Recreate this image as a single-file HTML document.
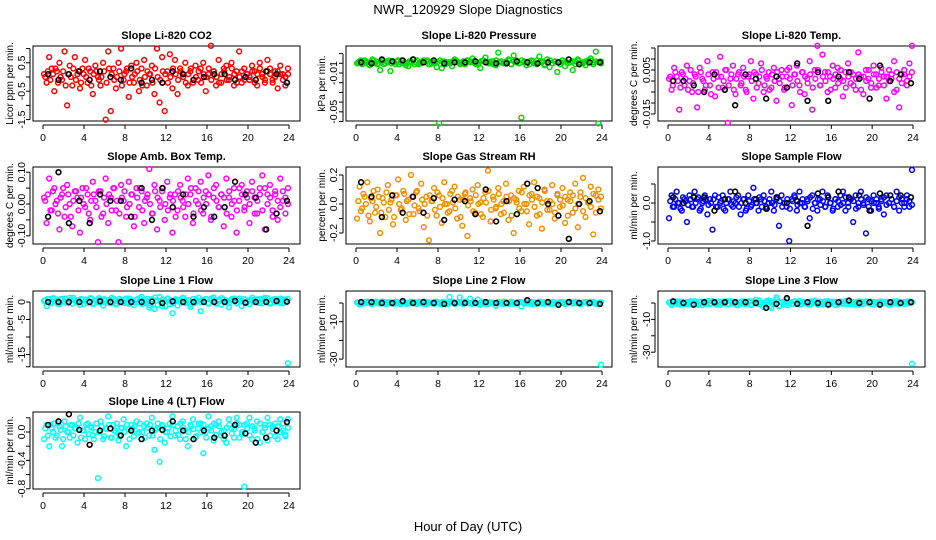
<!DOCTYPE html>
<html><head><meta charset="utf-8">
<style>
html,body{margin:0;padding:0;background:#fff;}
svg{display:block;font-family:"Liberation Sans",sans-serif;}
</style></head>
<body>
<svg id="chart" width="936" height="540" viewBox="0 0 936 540" xmlns="http://www.w3.org/2000/svg">
<text x="468" y="14" text-anchor="middle" font-size="13">NWR_120929  Slope Diagnostics</text>
<text x="468" y="531" text-anchor="middle" font-size="13">Hour of Day (UTC)</text>
</svg>
<script>
// ---- data (series values; x positions are hours of day spread across 0–24) ----
const xTicks = [0, 4, 8, 12, 16, 20, 24];
// CO2 (ppm per min)
const co2Vals = [0.1,-0.2,0.7,0.3,-0.5,0.2,0.5,-0.1,0.9,-1.0,0.4,-0.3,0.7,0.1,-0.4,0.3,0.6,-0.2,0.2,-0.6,0.4,0.0,-0.3,0.5,-1.5,0.9,-1.2,0.3,-0.4,0.5,1.0,-0.1,0.2,-0.7,0.4,-0.2,0.5,-0.5,0.3,0.6,-0.3,0.1,0.4,-0.6,1.0,-0.9,0.7,-1.2,0.2,0.8,-0.4,0.6,-0.6,0.3,0.1,0.5,-0.3,0.2,-0.2,0.4,-0.1,0.3,0.5,-0.5,0.1,1.1,0.2,-0.3,0.6,-0.2,0.3,0.4,-0.1,0.5,-0.3,0.2,0.9,-0.2,0.3,0.1,-0.1,0.4,0.2,-0.3,0.5,0.1,-0.2,0.6,0.3,-0.1,0.2,-0.4,0.4,0.1,-0.3,0.3];
const co2ValsB = [0.0,0.2,-0.1,0.1,0.3,-0.2,0.0,0.2,-0.3,0.1,0.0,0.3,-0.1,0.2,-0.2,0.1,0.0,0.3,-0.3,0.1,0.2,-0.1,0.0,0.2,-0.2,0.3,0.1,-0.1,0.0,0.2,-0.3,0.1,0.3,-0.2,0.0,0.1,0.2,-0.1,-0.3,0.0,0.2,0.1,-0.2,0.3,0.0,-0.1,0.2,0.1,-0.2,0.0,0.3,0.1,-0.1,0.2,0.0,-0.2,0.1,0.3,-0.1,0.0,0.2,-0.2,0.1,0.0,0.3,-0.1,0.2,0.0,-0.2,0.1,0.2,-0.1,0.0,0.3,0.1,-0.2,0.0,0.2,-0.1,0.1,0.0,0.2,-0.2,0.1,0.3,0.0,-0.1,0.2,0.1,-0.2,0.0,0.2,0.1,-0.1,0.0,0.1];
const co2Black = [0.1,-0.1,0.1,0.2,-0.1,0.2,0.0,-0.1,0.3,-0.2,-0.1,-0.2,0.2,0.1,-0.1,0.0,0.1,0.1,-0.1,0.0,-0.1,0.2,0.1,-0.2];
// Pressure (kPa per min)
const presVals = [0,0.002,-0.001,0.003,0.001,-0.002,0.004,0,-0.001,-0.007,0.003,0,0.001,-0.008,0.002,-0.001,0.003,0.001,0,-0.002,-0.003,0.002,0.004,0.001,-0.001,0,0.003,0.002,-0.001,0,0.001,-0.004,-0.062,-0.005,0.002,0,0.001,-0.003,0.004,0.002,0,0.001,-0.001,0.003,0.002,0.005,0,-0.001,-0.005,0.003,0.006,0.001,0,0.002,-0.002,0.011,0.001,0,0.002,0.004,-0.001,0.008,0.003,0,-0.056,0.001,-0.002,0.002,0.003,0,-0.001,0.007,0.001,-0.002,0.004,-0.004,0,0.002,-0.009,0.001,0.003,-0.003,0,0.001,-0.007,0.002,0.004,0,0.001,-0.002,0.003,0.005,0.001,0.012,-0.062,0.002];
const presValsB = [0.001,0.003,0,0.002,-0.001,0.001,0.003,0.002,0,0.001,-0.001,0.002,0.003,0,0.001,0.002,-0.001,0.003,0.001,0,0.002,0.001,-0.001,0.003,0,0.002,0.001,0.003,-0.001,0.002,0,0.001,0.003,0.002,-0.001,0.001,0,0.002,0.003,0.001,-0.001,0.002,0,0.003,0.001,0.002,-0.001,0,0.002,0.003,0.001,0,0.002,-0.001,0.003,0.001,0.002,0,0.001,0.003,-0.001,0.002,0.001,0,0.003,0.002,0.001,-0.001,0.002,0,0.003,0.001,0.002,-0.001,0.001,0.003,0,0.002,0.001,-0.001,0.003,0.002,0,0.001,0.002,-0.001,0.003,0.001,0,0.002,0.001,0.003,-0.001,0.002,0.001,0];
const presBlack = [0.001,0,0.004,0.002,0.003,0.004,0.001,0.003,0,0.001,0.001,0.002,0.001,0,0,0.002,0.001,0,0.001,0.001,0.004,-0.001,0.001,0.001];
// Li-820 temperature (deg C per min)
const tempVals = [0.001,-0.004,0.006,0.002,-0.013,0.004,-0.002,0.007,0,-0.005,0.003,-0.012,0.006,0.001,-0.004,0.009,-0.002,0.004,-0.007,0.002,0.011,-0.003,0.005,-0.019,0.001,0.007,-0.006,0.003,-0.002,0.006,-0.004,0.002,0.009,-0.008,0.003,-0.001,0.008,-0.005,0.002,0.004,-0.003,0.006,-0.009,0.001,0.005,-0.004,0.002,0.006,-0.011,0.003,0.007,-0.002,0.004,-0.006,0.001,0.009,-0.013,0.005,0.016,-0.002,0.012,0.004,-0.005,0.002,0.007,-0.003,0.006,0.001,-0.007,0.004,0.008,-0.001,0.003,-0.004,0.013,0.002,-0.006,0.005,0.001,-0.003,0.007,0.003,-0.002,0.006,0.002,-0.008,0.005,0.001,0.009,-0.004,-0.012,0.003,0.005,-0.002,0.008,0.016];
const tempValsB = [0.002,-0.002,0.004,0,-0.003,0.003,0.001,-0.004,0.005,-0.001,0.002,-0.005,0.004,0,-0.002,0.003,-0.006,0.001,0.004,-0.003,0.002,0,0.005,-0.002,0.003,-0.004,0.001,0.004,-0.001,0.002,-0.005,0.003,0,0.004,-0.003,0.002,0.005,-0.002,0.001,-0.004,0.003,0,0.004,-0.001,0.002,-0.003,0.005,0.001,-0.002,0.003,0,-0.005,0.004,0.002,-0.001,0.003,-0.003,0.001,0.005,-0.002,0.002,0,0.004,-0.004,0.001,0.003,-0.001,0.005,0,-0.003,0.002,0.004,-0.002,0.001,0.003,-0.004,0.002,0,0.005,-0.001,0.003,-0.003,0.001,0.004,-0.002,0.002,0,0.003,-0.005,0.004,0.001,-0.001,0.003,0,0.002,0.004];
const tempBlack = [0,0,-0.002,-0.005,0.003,-0.004,-0.011,0.003,0.001,-0.008,0.002,-0.003,0.008,-0.009,0.004,-0.009,0.002,0.004,0.001,-0.008,0.007,0,0.003,-0.001];
// Ambient box temperature (deg C per min)
const ambVals = [0.02,-0.06,0.08,-0.02,0.05,0.01,-0.08,0.03,-0.04,0.06,0,-0.07,0.04,0.02,-0.09,0.05,-0.01,0.03,-0.05,0.07,0.01,-0.12,0.04,-0.03,0.08,-0.06,0.02,0.05,-0.02,-0.12,0.06,0.01,-0.04,0.07,0.03,-0.07,0.05,-0.01,0.04,-0.06,0.02,0.11,-0.03,0.06,-0.08,0.01,0.04,-0.05,0.07,0.02,-0.09,0.03,-0.02,0.06,0.01,-0.04,0.08,0.03,-0.06,0.05,0,0.07,-0.03,0.04,0.09,-0.05,0.02,0.06,-0.01,0.03,-0.07,0.08,0.02,-0.04,0.05,-0.09,0.01,0.06,-0.02,0.04,-0.06,0.07,0.02,-0.03,0.05,0.09,-0.08,0.03,0.06,-0.02,0.04,-0.05,0.08,0.01,-0.03,0.05];
const ambValsB = [0.01,0.03,-0.02,0.04,0,-0.03,0.02,0.05,-0.01,0.03,-0.04,0.01,0.04,-0.02,0.02,0,0.05,-0.03,0.01,0.03,-0.01,0.04,-0.04,0.02,0,0.03,-0.02,0.05,0.01,-0.03,0.02,0.04,-0.01,0,0.03,-0.04,0.02,0.05,-0.02,0.01,0.03,0,-0.03,0.04,0.02,-0.01,0.05,0,-0.02,0.03,0.01,-0.04,0.04,0.02,-0.01,0.03,0,0.05,-0.03,0.01,0.04,-0.02,0.02,0,0.03,-0.04,0.05,0.01,-0.01,0.03,0.02,-0.03,0.04,0,0.01,-0.02,0.05,0.03,-0.01,0.02,0,0.04,-0.03,0.01,0.03,-0.02,0.05,0,0.02,-0.04,0.03,0.01,-0.01,0.04,0.02,0];
const ambBlack = [-0.04,0.1,-0.06,0.01,-0.06,0.03,0.01,0.01,-0.04,0.05,-0.05,0.05,-0.01,0.03,-0.04,-0.01,-0.04,-0.01,0.07,0.03,0.02,-0.08,-0.03,0.01];
// Gas stream RH (percent per min)
const rhVals = [-0.1,0.12,-0.03,0.05,0.15,-0.12,0.02,-0.06,0.1,-0.2,0.04,-0.09,0.13,0.01,-0.14,0.06,0.17,-0.04,0.09,-0.11,0.03,0.2,-0.07,0.08,-0.03,0.14,-0.16,0.05,-0.25,0.02,0.11,-0.08,0.06,-0.13,0.15,0.0,-0.05,0.09,0.12,-0.1,0.03,-0.15,0.07,-0.22,0.04,0.1,-0.06,0.13,0.01,-0.09,0.08,0.23,-0.12,0.05,-0.03,0.11,-0.07,0.02,0.14,-0.11,0.06,-0.2,0.03,0.09,-0.05,0.12,0.0,-0.14,0.07,0.15,-0.08,0.04,-0.17,0.1,0.02,-0.04,0.13,-0.1,0.06,-0.02,0.11,-0.13,0.03,0.08,-0.06,0.14,-0.16,0.05,0.18,-0.09,0.01,0.12,-0.21,0.06,0.1,-0.03];
const rhValsB = [0.02,-0.05,0.07,0.0,-0.08,0.04,0.09,-0.02,0.05,-0.06,0.01,0.08,-0.04,0.03,-0.09,0.06,0.0,-0.03,0.07,0.02,-0.07,0.05,-0.01,0.09,-0.05,0.03,0.0,-0.08,0.06,0.02,-0.04,0.08,-0.02,0.04,0.0,-0.06,0.07,0.01,-0.03,0.05,-0.09,0.03,0.08,-0.01,0.02,-0.05,0.06,0.0,-0.07,0.04,0.01,0.09,-0.04,0.03,-0.02,0.07,0.0,-0.06,0.05,0.02,-0.08,0.04,0.01,-0.03,0.08,0.0,-0.05,0.06,0.03,-0.02,0.05,-0.07,0.01,0.09,-0.04,0.02,0.0,-0.06,0.07,0.03,-0.01,0.05,-0.08,0.02,0.06,-0.03,0.0,0.08,-0.05,0.04,0.01,-0.02,0.07,-0.06,0.03,0.05];
const rhBlack = [0.15,0.05,-0.09,0.06,-0.06,0.05,-0.06,0.04,-0.11,0.03,0.02,-0.07,0.1,-0.12,0.02,-0.07,0.14,0.11,0.0,-0.08,-0.24,0.0,0.02,-0.05];
// Sample flow (ml/min per min)
const sampVals = [-0.4,0.2,-0.1,0.3,0.0,-0.2,0.1,-0.5,0.2,-0.1,0.3,0.1,-0.2,0.0,0.2,-0.3,0.1,-0.7,0.2,-0.1,0.0,0.2,-0.2,0.1,0.3,-0.1,0.0,0.2,-0.3,0.1,-0.2,0.2,-0.1,0.4,0.0,-0.2,0.1,0.2,-0.1,0.0,0.3,-0.2,0.1,-0.6,0.2,0.0,-0.1,-1.0,0.1,0.2,-0.2,0.3,0.0,-0.1,0.1,-0.4,0.2,0.0,-0.2,0.1,0.3,-0.1,0.2,0.0,-0.2,0.1,-0.1,0.2,0.3,-0.2,0.0,0.1,-0.5,0.2,-0.1,0.3,0.0,-0.8,0.1,-0.2,0.2,0.0,-0.1,0.1,-0.3,0.2,0.0,0.1,-0.1,0.3,-0.2,0.1,0.0,0.2,-0.1,0.87];
const sampValsB = [0.05,-0.1,0.1,0.0,-0.15,0.15,0.05,-0.05,0.1,-0.1,0.0,0.15,-0.15,0.05,0.1,-0.05,0.0,0.1,-0.1,0.15,0.05,-0.15,0.0,0.1,-0.05,0.05,0.15,-0.1,0.0,0.1,-0.15,0.05,-0.05,0.1,0.0,0.15,-0.1,0.05,-0.15,0.1,0.0,-0.05,0.15,0.05,-0.1,0.0,0.1,-0.15,0.05,0.15,-0.05,0.0,0.1,-0.1,0.05,0.15,-0.15,0.0,0.1,-0.05,0.05,-0.1,0.15,0.0,-0.15,0.1,0.05,-0.05,0.0,0.15,-0.1,0.1,0.05,-0.15,0.0,0.1,-0.05,0.15,-0.1,0.05,0.0,0.1,-0.15,0.05,0.15,-0.05,0.0,0.1,-0.1,0.05,0.15,0.0,-0.1,0.1,0.05,-0.05];
const sampBlack = [0.15,0.0,0.15,0.15,-0.2,0.1,0.3,0.0,0.1,-0.15,0.15,0.0,0.05,-0.6,0.25,0.15,0.3,0.15,0.2,-0.2,0.25,0.2,0.2,0.15];
// Line 1 flow
const l1Vals = [0.3,-1.2,0.8,-0.4,1.0,0.2,-0.6,0.9,0.1,-0.3,1.2,-0.5,0.6,0.0,-0.8,0.7,0.3,-0.2,1.1,-0.6,0.4,-0.1,0.8,-1.0,0.5,0.2,-0.4,0.9,-0.7,0.1,0.6,-0.3,1.0,-0.5,0.3,-0.9,0.7,0.0,1.5,-0.4,0.2,-1.6,0.8,-2.0,0.5,1.4,-1.2,0.3,0.9,-0.6,-3.2,0.4,-1.0,0.7,1.2,-0.3,0.5,-1.4,0.8,-0.2,0.4,-2.6,0.1,0.9,-0.5,0.6,1.3,-0.4,0.2,-0.8,0.7,0.0,-1.5,0.5,1.0,-0.3,0.4,-1.1,0.8,0.1,-0.6,0.6,0.3,-0.2,0.9,-0.4,1.2,0.2,-0.5,0.7,0.0,0.5,-0.3,0.8,0.2,-17.5];
const l1ValsB = [0.5,0.9,-0.2,1.1,0.3,-0.5,0.8,0.1,1.0,-0.3,0.6,1.2,-0.1,0.4,0.9,-0.6,0.7,0.2,1.0,-0.4,0.5,1.1,0.0,0.8,-0.2,0.6,1.2,0.3,-0.5,0.9,0.1,0.7,-0.3,1.0,0.4,-0.1,0.8,1.1,-0.6,0.2,0.9,-1.0,0.5,1.3,-0.8,0.1,0.7,-1.2,1.0,0.3,-0.4,0.8,0.6,-0.2,1.1,0.0,0.5,-0.7,0.9,0.3,1.2,-0.1,0.6,0.8,-0.3,1.0,0.2,-0.5,0.7,1.1,0.0,0.4,-0.2,0.9,0.6,-0.4,1.0,0.3,0.8,-0.1,0.5,1.2,0.0,0.7,-0.3,0.9,0.4,1.1,-0.2,0.6,0.8,0.1,1.0,-0.4,0.5,0.9];
const l1Black = [0.0,0.0,0.0,0.0,0.0,0.2,0.0,0.0,0.0,0.0,0.1,-0.3,0.2,0.0,0.0,0.0,0.0,0.0,0.3,-0.2,0.0,0.0,0.3,0.1];
// Line 2 flow
const l2Vals = [0.3,-0.8,0.5,-0.2,0.7,0.0,-0.5,0.6,0.2,-0.3,0.8,-0.6,0.4,0.1,-0.4,0.6,0.2,-0.7,0.5,0.0,-0.3,0.7,0.1,-0.5,0.4,-0.2,0.8,-0.6,0.3,0.0,-0.4,0.6,0.2,-0.7,0.5,-0.1,3.2,0.4,-0.5,0.2,3.0,-0.3,0.6,0.0,2.3,-0.4,0.3,1.8,-1.0,0.5,0.1,-0.6,0.4,-0.2,-1.5,0.6,0.0,-0.5,0.3,-0.1,0.7,-0.4,0.2,0.5,-1.8,0.1,0.4,-0.3,0.6,0.0,-0.5,0.8,0.2,-0.4,0.5,0.1,-0.6,0.3,-0.2,0.6,0.0,-0.5,0.4,0.2,-0.3,0.7,0.0,-0.4,0.3,0.5,-0.2,0.6,0.1,-0.5,0.2,-33];
const l2ValsB = [0.0,0.4,-0.3,0.6,0.1,-0.5,0.3,0.7,-0.2,0.5,0.0,-0.6,0.4,0.2,-0.4,0.6,-0.1,0.3,0.7,-0.5,0.2,0.0,0.5,-0.3,0.6,0.1,-0.6,0.4,0.0,-0.2,0.7,0.3,-0.4,0.5,0.1,-0.6,0.2,0.6,-0.3,0.0,0.4,-0.5,0.7,0.1,-0.2,0.5,0.0,-0.4,0.3,0.6,-0.6,0.2,0.4,-0.1,0.0,0.5,-0.3,0.7,0.1,-0.5,0.3,0.0,-0.2,0.6,0.4,-0.4,0.1,0.5,-0.6,0.2,0.0,0.7,-0.3,0.4,0.1,-0.5,0.6,0.0,-0.2,0.3,0.5,-0.4,0.2,0.7,-0.1,0.0,0.4,-0.6,0.3,0.5,-0.3,0.1,0.6,-0.2,0.0,0.4];
const l2Black = [0.5,0.5,0.0,0.0,1.0,0.0,0.5,0.0,-0.5,0.0,0.0,0.0,0.5,0.0,0.0,0.0,1.5,0.0,0.5,-1.0,0.5,0.0,0.0,-0.5];
// Line 3 flow
const l3Vals = [0.3,-1.2,0.8,-0.5,1.0,0.0,-0.8,0.6,0.2,-1.0,1.2,-0.4,0.5,-1.3,0.9,0.1,-0.7,1.1,-0.2,0.4,-1.1,0.8,0.0,-0.6,1.3,-0.3,0.7,-1.4,0.2,1.0,-0.5,0.4,-1.2,0.9,2.0,-0.6,0.1,-2.5,0.8,1.6,-3.0,0.3,3.5,-2.0,0.5,-1.0,2.1,0.0,-0.6,0.9,-0.2,1.2,-0.8,0.4,0.0,-1.1,0.7,1.5,-0.4,0.2,-0.9,1.0,0.3,-0.5,0.8,-1.2,0.1,0.6,-0.3,1.1,-0.7,0.4,0.0,-1.0,0.9,0.2,-0.5,0.7,-0.2,1.0,-0.9,0.3,0.6,-0.4,0.1,0.8,-1.1,0.5,0.0,1.2,-0.6,0.3,0.7,-0.3,0.9,-37];
const l3ValsB = [0.5,-0.5,1.0,0.0,-1.0,0.6,0.2,-0.7,1.1,-0.3,0.4,-1.1,0.8,0.0,-0.6,1.2,-0.2,0.5,-0.9,0.9,0.1,-0.4,1.0,-0.8,0.3,0.7,-1.2,0.2,0.9,-0.5,0.0,1.1,-1.0,0.6,-0.3,1.5,-1.5,0.4,1.2,-2.0,0.8,-0.6,2.2,-1.8,0.3,1.0,-1.3,0.5,-0.4,1.1,0.0,-0.9,0.7,0.2,-0.6,1.0,-0.2,0.4,-1.1,0.8,0.1,-0.5,1.2,-0.8,0.3,0.6,-1.0,0.9,0.0,-0.4,1.1,-0.7,0.5,0.2,-0.9,0.8,-0.3,1.0,0.0,-0.6,0.7,0.3,-1.0,0.9,-0.2,0.5,0.1,-0.8,1.0,-0.4,0.6,0.2,-0.6,0.8,0.0,0.4];
const l3Black = [1.0,0.0,-1.0,0.5,0.5,0.5,0.5,0.5,0.0,-3.0,-0.5,3.0,-0.5,0.5,0.0,-1.0,0.5,1.5,0.0,0.5,-1.0,0.5,0.0,0.5];
// Line 4 (LT) flow
const l4Vals = [-0.1,0.1,-0.2,0.05,0.12,-0.05,0.08,-0.2,0.15,0.0,-0.08,0.1,0.05,-0.15,0.2,0.02,-0.1,0.12,0.08,-0.05,0.0,-0.65,0.15,-0.1,0.05,0.22,-0.08,0.1,0.0,-0.12,0.06,0.18,-0.2,0.04,0.1,-0.06,0.15,0.0,-0.1,0.08,0.12,-0.05,0.2,-0.25,0.05,-0.42,0.1,-0.15,0.0,0.12,0.22,-0.05,0.08,-0.1,0.15,0.02,-0.2,0.1,0.18,-0.08,0.05,0.12,-0.3,0.0,0.22,0.08,-0.12,0.1,0.15,-0.05,0.02,-0.15,0.18,0.05,-0.08,0.2,0.1,-0.03,-0.77,0.12,0.2,-0.1,0.05,0.15,-0.15,0.0,0.1,0.2,-0.05,0.08,0.12,-0.1,0.18,0.02,-0.06,0.18];
const l4ValsB = [0.05,-0.05,0.1,0.0,-0.08,0.12,0.03,-0.1,0.08,0.0,0.1,-0.05,0.05,0.12,-0.08,0.02,0.1,-0.03,0.06,-0.1,0.12,0.0,0.08,-0.06,0.04,0.1,-0.08,0.02,0.12,-0.04,0.06,0.0,0.1,-0.1,0.05,0.08,-0.02,0.12,0.0,-0.08,0.06,0.1,-0.05,0.03,0.12,-0.1,0.08,0.0,0.05,-0.06,0.1,0.02,-0.04,0.12,0.06,-0.1,0.0,0.08,0.04,-0.06,0.12,0.0,0.1,-0.08,0.05,0.02,0.12,-0.04,0.08,0.0,-0.1,0.06,0.1,-0.02,0.04,0.12,-0.08,0.0,0.1,0.05,-0.05,0.08,0.02,-0.1,0.12,0.0,0.06,-0.12,0.1,0.04,-0.06,0.08,0.0,0.12,-0.04,0.06];
const l4Black = [0.1,0.15,0.25,0.03,-0.18,0.02,0.05,-0.05,0.02,-0.1,0.02,0.03,0.15,0.02,-0.1,0.02,-0.08,-0.05,0.1,-0.02,-0.15,-0.08,0.02,0.14];

// ---- layout ----
const NS = "http://www.w3.org/2000/svg";
const svg = document.getElementById('chart');
const cols = [{x0:43,x24:289,l:33,r:300,lab:9,tl:21},{x0:356,x24:602,l:346,r:612,lab:321,tl:333},{x0:668,x24:913,l:658,r:925,lab:633,tl:646}];
const rows = [{t:46,b:121},{t:167,b:244},{t:291,b:367},{t:412,b:489}];

const panels = [
 {key:'co2',title:'Slope Li-820 CO2',ylab:'Licor ppm per min.',c:0,r:0,vals:co2Vals,valsB:co2ValsB,blk:co2Black,col:'#ff0000',y0:77,k:28.4,ticks:[1,0.5,0,-0.5,-1,-1.5],labs:['0.5','-0.5','-1.5'],labAt:[0.5,-0.5,-1.5]},
 {key:'pressure',title:'Slope Li-820 Pressure',ylab:'kPa per min.',c:1,r:0,vals:presVals,valsB:presValsB,blk:presBlack,col:'#00dd00',y0:63.3,k:970,ticks:[0.01,0,-0.01,-0.02,-0.03,-0.04,-0.05,-0.06],labs:['-0.01','-0.05'],labAt:[-0.01,-0.05]},
 {key:'li820-temp',title:'Slope Li-820 Temp.',ylab:'degrees C per min.',c:2,r:0,vals:tempVals,valsB:tempValsB,blk:tempBlack,col:'#ff00ff',y0:81,k:2200,ticks:[0.015,0.01,0.005,0,-0.005,-0.01,-0.015],labs:['0.005','-0.015'],labAt:[0.005,-0.015]},
 {key:'amb-box-temp',title:'Slope Amb. Box Temp.',ylab:'degrees C per min.',c:0,r:1,vals:ambVals,valsB:ambValsB,blk:ambBlack,col:'#ff00ff',y0:204,k:318,ticks:[0.1,0.05,0,-0.05,-0.1],labs:['0.10','0.00','-0.10'],labAt:[0.1,0,-0.1]},
 {key:'gas-stream-rh',title:'Slope Gas Stream RH',ylab:'percent per min.',c:1,r:1,vals:rhVals,valsB:rhValsB,blk:rhBlack,col:'#f49000',y0:204,k:145,ticks:[0.2,0.1,0,-0.1,-0.2],labs:['0.2','0.0','-0.2'],labAt:[0.2,0,-0.2]},
 {key:'sample-flow',title:'Slope Sample Flow',ylab:'ml/min per min.',c:2,r:1,vals:sampVals,valsB:sampValsB,blk:sampBlack,col:'#0000ff',y0:203,k:38,ticks:[0.5,0,-0.5,-1],labs:['0.0','-1.0'],labAt:[0,-1]},
 {key:'line1-flow',title:'Slope Line 1 Flow',ylab:'ml/min per min.',c:0,r:2,vals:l1Vals,valsB:l1ValsB,blk:l1Black,col:'#00ffff',y0:302,k:3.5,ticks:[0,-5,-10,-15,-18.5],labs:['0','-5','-15'],labAt:[0,-5,-15]},
 {key:'line2-flow',title:'Slope Line 2 Flow',ylab:'ml/min per min.',c:1,r:2,vals:l2Vals,valsB:l2ValsB,blk:l2Black,col:'#00ffff',y0:303,k:1.87,ticks:[0,-10,-20,-30],labs:['-10','-30'],labAt:[-10,-30]},
 {key:'line3-flow',title:'Slope Line 3 Flow',ylab:'ml/min per min.',c:2,r:2,vals:l3Vals,valsB:l3ValsB,blk:l3Black,col:'#00ffff',y0:303,k:1.64,ticks:[0,-10,-20,-30],labs:['-10','-30'],labAt:[-10,-30]},
 {key:'line4-flow',title:'Slope Line 4 (LT) Flow',ylab:'ml/min per min.',c:0,r:3,vals:l4Vals,valsB:l4ValsB,blk:l4Black,col:'#00ffff',y0:432,k:71,ticks:[0.2,0,-0.2,-0.4,-0.6,-0.8],labs:['0.0','-0.4','-0.8'],labAt:[0,-0.4,-0.8]}
];

function mk(tag, attrs, parent){
  const e = document.createElementNS(NS, tag);
  for (const a in attrs) e.setAttribute(a, attrs[a]);
  (parent||svg).appendChild(e);
  return e;
}

panels.forEach(p => {
  const C = cols[p.c], R = rows[p.r];
  const xs = h => C.x0 + (C.x24 - C.x0) * h / 24;
  const ys = v => p.y0 - v * p.k;
  const g = mk('g', {});
  
  
  const box = mk('rect', {x:C.l, y:R.t, width:C.r-C.l, height:R.b-R.t, fill:'none', stroke:'#000', 'stroke-width':1}, g);
  
  
  const t = mk('text', {x:(C.l+C.r)/2, y:R.t-7, 'text-anchor':'middle', 'font-size':11, 'font-weight':'bold'}, g);
  t.textContent = p.title;
  
  
  const yl = mk('text', {x:0, y:0, 'text-anchor':'middle', 'font-size':10, transform:`translate(${C.lab+4},${(R.t+R.b)/2}) rotate(-90)`}, g);
  yl.textContent = p.ylab;
  
  
  const xa = mk('g', {}, g);
  
  
  mk('line', {x1:xs(0), x2:xs(24), y1:R.b+4, y2:R.b+4, stroke:'#000'}, xa);
  xTicks.forEach(h => {
    mk('line', {x1:xs(h), x2:xs(h), y1:R.b+4, y2:R.b+8, stroke:'#000'}, xa);
    const tl = mk('text', {x:xs(h), y:R.b+20, 'text-anchor':'middle', 'font-size':10.5}, xa);
    tl.textContent = h;
    
    
  });
  const ya = mk('g', {}, g);
  
  
  const ax = C.l - 3;
  mk('line', {x1:ax, x2:ax, y1:ys(p.ticks[0]), y2:ys(p.ticks[p.ticks.length-1]), stroke:'#000'}, ya);
  p.ticks.forEach(v => mk('line', {x1:ax-4, x2:ax, y1:ys(v), y2:ys(v), stroke:'#000'}, ya));
  p.labs.forEach((s, i) => {
    const tl = mk('text', {x:0, y:0, 'text-anchor':'middle', 'font-size':10.5, transform:`translate(${C.tl+4},${ys(p.labAt[i])}) rotate(-90)`}, ya);
    tl.textContent = s;
    
    
  });
  const sg = mk('g', {}, g);
  
  
  const drawSeries = (arr, off) => {
    const n = arr.length;
    arr.forEach((v, i) => {
      const h = 0.1 + off + (23.8 - off) * i / (n - 1);
      const c = mk('circle', {cx:xs(h), cy:ys(v), r:2.4, fill:'none', stroke:p.col, 'stroke-width':1.5}, sg);
      
      
    });
  };
  drawSeries(p.valsB, 0.12);
  drawSeries(p.vals, 0);
  const bg = mk('g', {}, g);
  
  
  const m = p.blk.length;
  p.blk.forEach((v, i) => {
    const h = 0.5 + 23.3 * i / (m - 1);
    const c = mk('circle', {cx:xs(h), cy:ys(v), r:2.4, fill:'none', stroke:'#000', 'stroke-width':1.6}, bg);
    
    
  });
});
</script>
</body></html>
